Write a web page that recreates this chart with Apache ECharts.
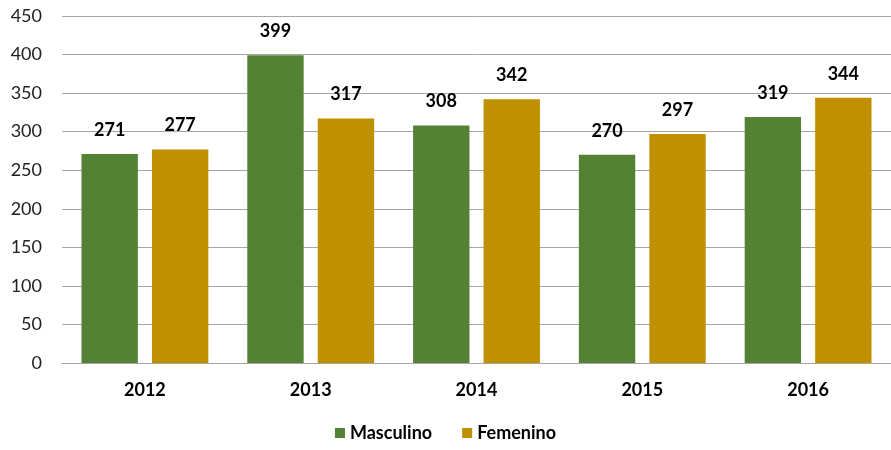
<!DOCTYPE html>
<html>
<head>
<meta charset="utf-8">
<script src="https://cdn.jsdelivr.net/npm/echarts@6.0.0/dist/echarts.min.js"></script>
<style>
  html, body { margin: 0; padding: 0; background: #fff; }
  #chart { width: 891px; height: 450px; }
</style>
</head>
<body>
<div id="chart"></div>
<script>
// Data
const years = ['2012', '2013', '2014', '2015', '2016'];
const masculino = [271, 399, 308, 270, 319];
const femenino = [277, 317, 342, 297, 344];

const FONT = 'Lato, "Open Sans", sans-serif';

const chart = echarts.init(document.getElementById('chart'), null, { renderer: 'canvas' });

const labelStyle = {
    show: true,
    position: 'top',
    distance: 15,
    color: '#000',
    fontWeight: 'bold',
    fontSize: 18,
    fontFamily: FONT,
};

chart.setOption({
    animation: false,
    backgroundColor: '#fff',
    grid: { left: 62, right: 0, top: 16, bottom: 87 },
    legend: {
        bottom: 3,
        left: 'center',
        itemWidth: 10,
        itemHeight: 10,
        itemGap: 30,
        icon: 'rect',
        textStyle: { color: '#000', fontWeight: 'bold', fontSize: 18, fontFamily: FONT },
        data: ['Masculino', 'Femenino'],
    },
    xAxis: {
        type: 'category',
        data: years,
        axisTick: { show: false },
        axisLine: { lineStyle: { color: '#a6a6a6', width: 1 } },
        axisLabel: { color: '#000', fontWeight: 'bold', fontSize: 18, fontFamily: FONT, margin: 18 },
    },
    yAxis: {
        type: 'value',
        min: 0,
        max: 450,
        interval: 50,
        axisLine: { show: false },
        axisTick: { show: false },
        axisLabel: { color: '#222', fontSize: 18, fontFamily: FONT, margin: 20 },
        splitLine: { lineStyle: { color: '#a6a6a6', width: 1 } },
    },
    series: [
        {
            name: 'Masculino',
            type: 'bar',
            data: masculino,
            barWidth: '34%',
            barGap: '25%',
            itemStyle: { color: '#548235' },
            label: labelStyle,
        },
        {
            name: 'Femenino',
            type: 'bar',
            data: femenino,
            barWidth: '34%',
            itemStyle: { color: '#bf9000' },
            label: labelStyle,
        },
    ],
});
</script>
</body>
</html>
